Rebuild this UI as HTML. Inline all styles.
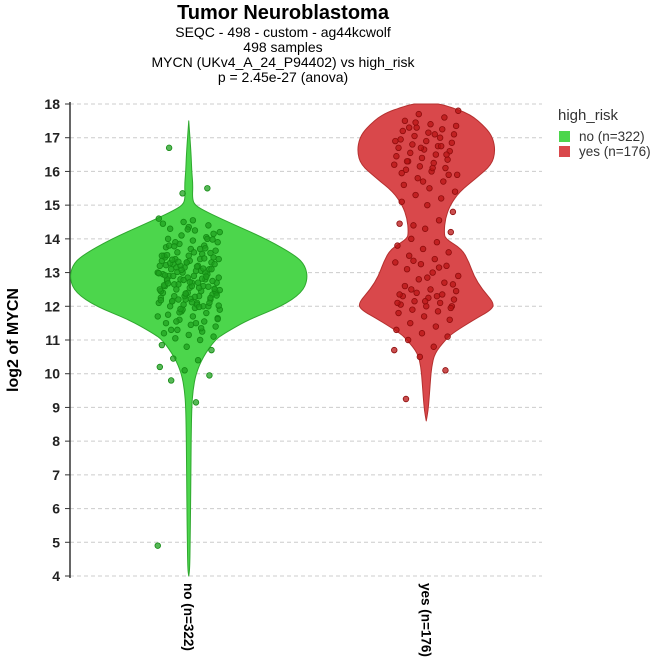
<!DOCTYPE html>
<html><head><meta charset="utf-8"><style>
body{margin:0;background:#fff;font-family:"Liberation Sans",sans-serif}
svg{display:block}
</style></head><body>
<svg id="c" width="669" height="672" font-family="Liberation Sans, DejaVu Sans, sans-serif"></svg>
<script>
const categories=["no (n=322)","yes (n=176)"];
const yTicks=[4,5,6,7,8,9,10,11,12,13,14,15,16,17,18];
const densNoY=[17.5,16.5,16,15.6,15.2,15,14.8,14.5,14,13.5,13.2,12.8,12.4,12,11.6,11.2,11,10.5,10,9.5,9,8,7,6,5,4.2,4];
const densNoW=[0,0.02,0.025,0.035,0.03,0.05,0.15,0.33,0.65,0.9,0.98,1.0,0.95,0.78,0.5,0.3,0.22,0.12,0.06,0.035,0.025,0.02,0.018,0.015,0.012,0.008,0];
const densYesY=[18,17.95,17.7,17.3,17,16.6,16.2,15.8,15.4,15,14.6,14.2,14,13.7,13.3,12.9,12.5,12.1,11.9,11.6,11.2,11,10.6,10.2,9.8,9.3,8.9,8.6];
const densYesW=[0.1,0.17,0.37,0.5,0.56,0.58,0.55,0.42,0.28,0.2,0.16,0.15,0.16,0.3,0.36,0.4,0.47,0.57,0.55,0.4,0.22,0.16,0.07,0.045,0.035,0.025,0.015,0];
const pointsNo=[16.7,15.5,15.35,4.9,9.15,9.8,9.95,10.1,10.2,10.4,10.45,10.7,10.8,10.85,11.0,11.05,11.1,11.15,11.2,11.25,11.3,11.4,11.45,11.5,11.55,11.6,11.65,11.7,11.75,11.8,11.85,11.9,11.95,12.0,12.0,12.05,12.1,12.1,12.15,12.2,12.2,12.25,12.3,12.3,12.35,12.4,12.4,12.45,12.5,12.5,12.55,12.6,12.6,12.65,12.7,12.7,12.75,12.8,12.8,12.85,12.9,12.9,12.95,13.0,13.0,13.05,13.1,13.1,13.15,13.2,13.2,13.25,13.3,13.3,13.35,13.4,13.4,13.45,13.5,13.5,13.55,13.6,13.65,13.7,13.75,13.8,13.85,13.9,13.95,14.0,14.05,14.1,14.2,14.25,14.3,14.4,14.5,14.6,12.05,12.15,12.25,12.35,12.45,12.55,12.65,12.75,12.85,12.95,13.05,13.15,13.25,13.35,13.45,12.0,12.2,12.4,12.6,12.8,13.0,13.2,13.4,13.6,13.8,14.0,11.9,11.7,11.5,11.3,12.1,12.3,12.5,12.7,12.9,13.1,13.3,13.5,13.7,13.9,14.15,14.35,12.62,12.82,13.02,12.42,12.22,13.22,13.42,11.82,11.62,14.55,12.68,12.88,13.08,12.48,12.28,13.28,12.58,12.78,12.98,13.18,13.38,13.58,12.38,12.18,11.98,13.78,13.98,14.28,14.45,11.35,11.55,12.52,12.72,12.92,13.12,13.32,12.32,12.12,13.52,13.72,11.92,12.02];
const pointsYes=[9.25,10.1,10.5,10.7,10.8,11.0,11.1,11.2,11.3,11.4,11.5,11.6,11.7,11.8,11.85,11.9,12.0,12.0,12.05,12.1,12.15,12.2,12.25,12.3,12.35,12.4,12.45,12.5,12.6,12.7,12.8,12.9,13.0,13.1,13.2,13.25,13.3,13.4,13.5,13.6,13.7,13.8,13.9,14.0,14.2,14.3,14.45,14.55,14.4,14.8,15.0,15.1,15.2,15.3,15.4,15.5,15.6,15.7,15.8,15.9,16.0,16.05,16.1,16.15,16.2,16.25,16.3,16.35,16.4,16.45,16.5,16.55,16.6,16.65,16.7,16.75,16.8,16.85,16.9,16.95,17.0,17.05,17.1,17.15,17.2,17.25,17.3,17.35,17.4,17.5,17.6,17.7,17.8,16.1,16.3,16.5,16.7,16.9,17.1,17.3,15.9,15.7,12.1,12.3,12.5,11.95,12.15,12.35,13.15,13.35,12.65,12.85,15.95,16.75,17.45];

const S="http://www.w3.org/2000/svg",svg=document.getElementById('c');
const X0=70,X1=545,Y18=104,Y4=576;
const y=v=>Y4-(v-4)*(Y4-Y18)/14;
const bw=(X1-X0)/categories.length;
const cx=i=>X0+bw*(i+0.5);
function mk(t,a,p){const e=document.createElementNS(S,t);for(const k in a)e.setAttribute(k,a[k]);(p||svg).appendChild(e);return e;}
function txt(s,a){const e=mk('text',a);e.textContent=s;return e;}

let e;
e=txt("Tumor Neuroblastoma",{x:283,y:19,'text-anchor':'middle','font-size':20,'font-weight':'bold'});


const subs=["SEQC - 498 - custom - ag44kcwolf","498 samples","MYCN (UKv4_A_24_P94402) vs high_risk","p = 2.45e-27 (anova)"];
subs.forEach((s,i)=>{const t=txt(s,{x:283,y:37+i*15,'text-anchor':'middle','font-size':14});

});

yTicks.forEach(v=>{
 const g=mk('line',{x1:X0,x2:X1-3,y1:y(v),y2:y(v),stroke:'#ccc','stroke-dasharray':'4,3'});
 
 
 mk('line',{x1:X0-5,x2:X0,y1:y(v),y2:y(v),stroke:'#333'});
 const t=txt(String(v),{x:X0-10,y:y(v)+5,'text-anchor':'end','font-size':14,'font-weight':'bold',fill:'#222'});
 
 
});
e=mk('line',{x1:X0,x2:X0,y1:Y18-2,y2:Y4+2,stroke:'#333','stroke-width':1.5});


e=txt("log2 of MYCN",{transform:'translate(18,340) rotate(-90)','text-anchor':'middle','font-size':16,'font-weight':'bold'});



const dens=[[densNoY,densNoW],[densYesY,densYesW]];
const maxHW=[119,119];
const fills=['#4cd64c','#d9484b'],strokes=['#2fa82f','#b5302f'];
const pf=['#1fa01f','#b81414'],ps=['#138a13','#8e0c0c'];
const pts=[pointsNo,pointsYes];
dens.forEach(([ys,ws],i)=>{
 let L=[],R=[];
 ys.forEach((v,k)=>{R.push([cx(i)+ws[k]*maxHW[i],y(v)]);L.push([cx(i)-ws[k]*maxHW[i],y(v)]);});
 const all=R.concat(L.reverse());
 let d='M'+all[0].join(',');
 for(let k=1;k<all.length;k++){const p0=all[k-1],p1=all[k];const my=(p0[1]+p1[1])/2;d+=' Q'+p0[0]+','+p0[1]+' '+((p0[0]+p1[0])/2)+','+my;}
 d+=' L'+all[all.length-1].join(',')+'Z';
 const p=mk('path',{d:d,fill:fills[i],stroke:strokes[i],'stroke-width':1,'stroke-linejoin':'round'});
 
 
 pts[i].forEach((v,k)=>{
  const j=(((k*37+11)%61)/60-0.5)*(i?64:62);
  const c=mk('circle',{cx:cx(i)+j,cy:y(v),r:2.8,fill:pf[i],'fill-opacity':0.75,stroke:ps[i],'stroke-width':0.8});
  
  
 });
 const t=txt(categories[i],{transform:'translate('+(cx(i)-5)+',583) rotate(90)','font-size':13.5,'font-weight':'bold'});
 
 
});

e=txt("high_risk",{x:558,y:120,'font-size':15,fill:'#333'});


categories.forEach((s,i)=>{
 const r=mk('rect',{x:559,y:131+i*15,width:11,height:11,fill:fills[i]});
 
 
 const t=txt(s,{x:579,y:141+i*15,'font-size':13.5,fill:'#333'});
 
 
});
</script>
</body></html>
